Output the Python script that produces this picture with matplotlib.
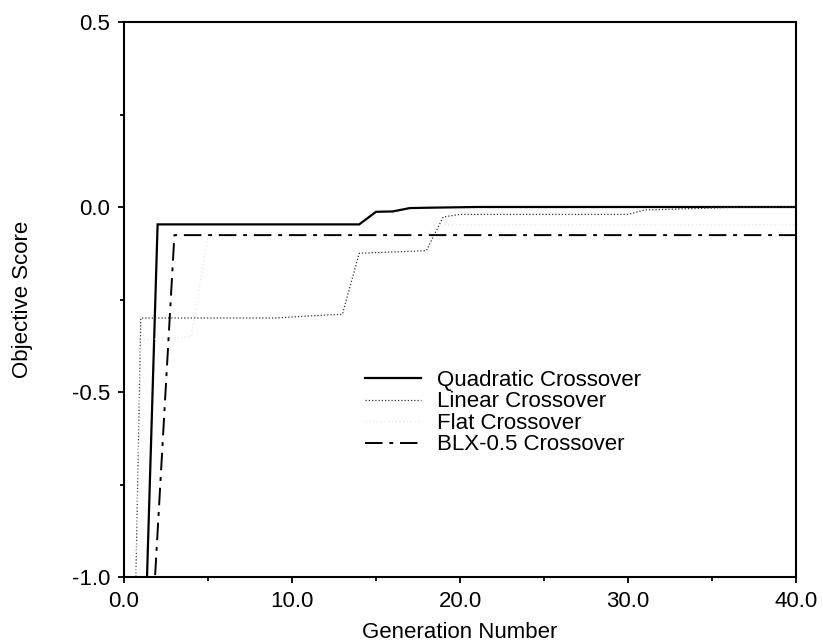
import matplotlib
matplotlib.use("Agg")
import matplotlib.pyplot as plt
from matplotlib.ticker import MultipleLocator, FixedLocator, FixedFormatter

plt.rcParams['font.family'] = ['Liberation Sans', 'DejaVu Sans']

# ---- data ----
quad_x = [1, 2, 14, 15, 16, 17, 18, 21, 40]
quad_y = [-1.56, -0.047, -0.047, -0.013, -0.012, -0.003, -0.002, 0.0, 0.0]

lin_x = [0, 1, 9, 12, 13, 14, 18, 19, 20, 30, 31, 37, 40]
lin_y = [-2.7, -0.30, -0.30, -0.292, -0.29, -0.125, -0.118, -0.027, -0.02, -0.02, -0.008, 0.0, 0.0]

flat_x = [0, 1, 4, 5, 18, 19, 40]
flat_y = [-2.6, -0.36, -0.35, -0.076, -0.076, -0.048, -0.048]

blx_x = [1, 3, 40]
blx_y = [-1.68, -0.076, -0.076]

labels = ["Quadratic Crossover", "Linear Crossover", "Flat Crossover", "BLX-0.5 Crossover"]
xticks = [0, 10, 20, 30, 40]
xticklabels = ["0.0", "10.0", "20.0", "30.0", "40.0"]
yticks = [-1.0, -0.5, 0.0, 0.5]
yticklabels = ["-1.0", "-0.5", "0.0", "0.5"]

FS = 16

fig = plt.figure(figsize=(8.23, 6.44), dpi=100)
ax = fig.add_axes([124/823, 1-577/644, (796-124)/823, (577-22)/644])

ax.plot(quad_x, quad_y, color='black', lw=1.6, solid_joinstyle='miter', label=labels[0])
ax.plot(lin_x, lin_y, color='#333333', lw=0.9, linestyle=(0, (1, 1.6)), label=labels[1])
ax.plot(flat_x, flat_y, color='#e6e6e6', lw=0.9, linestyle=(0, (1, 2)), label=labels[2])
ax.plot(blx_x, blx_y, color='black', lw=1.4, linestyle=(0, (9, 3.5, 2, 3.5)), label=labels[3])

ax.set_xlim(0, 40)
ax.set_ylim(-1.0, 0.5)
ax.xaxis.set_major_locator(FixedLocator(xticks))
ax.xaxis.set_major_formatter(FixedFormatter(xticklabels))
ax.yaxis.set_major_locator(FixedLocator(yticks))
ax.yaxis.set_major_formatter(FixedFormatter(yticklabels))
ax.xaxis.set_minor_locator(MultipleLocator(5))
ax.yaxis.set_minor_locator(MultipleLocator(0.25))

ax.tick_params(which='both', direction='out', top=False, right=False, width=1.3,
               labelsize=FS, pad=6)
ax.tick_params(which='major', length=4)
ax.tick_params(which='minor', length=3)
for s in ax.spines.values():
    s.set_linewidth(1.5)

ax.set_xlabel("Generation Number", fontsize=FS, va='center')
ax.set_ylabel("Objective Score", fontsize=FS, va='center')
ax.xaxis.set_label_coords(0.5, (577-632)/555)
ax.yaxis.set_label_coords((23-124)/672, 0.5)

leg = ax.legend(loc='upper left', bbox_to_anchor=(365/823, 1-370/644),
                bbox_transform=fig.transFigure, frameon=False, fontsize=FS,
                handlelength=2.5, handletextpad=0.75, labelspacing=0.02,
                borderpad=0, borderaxespad=0)

fig.savefig("out.png", dpi=100)
